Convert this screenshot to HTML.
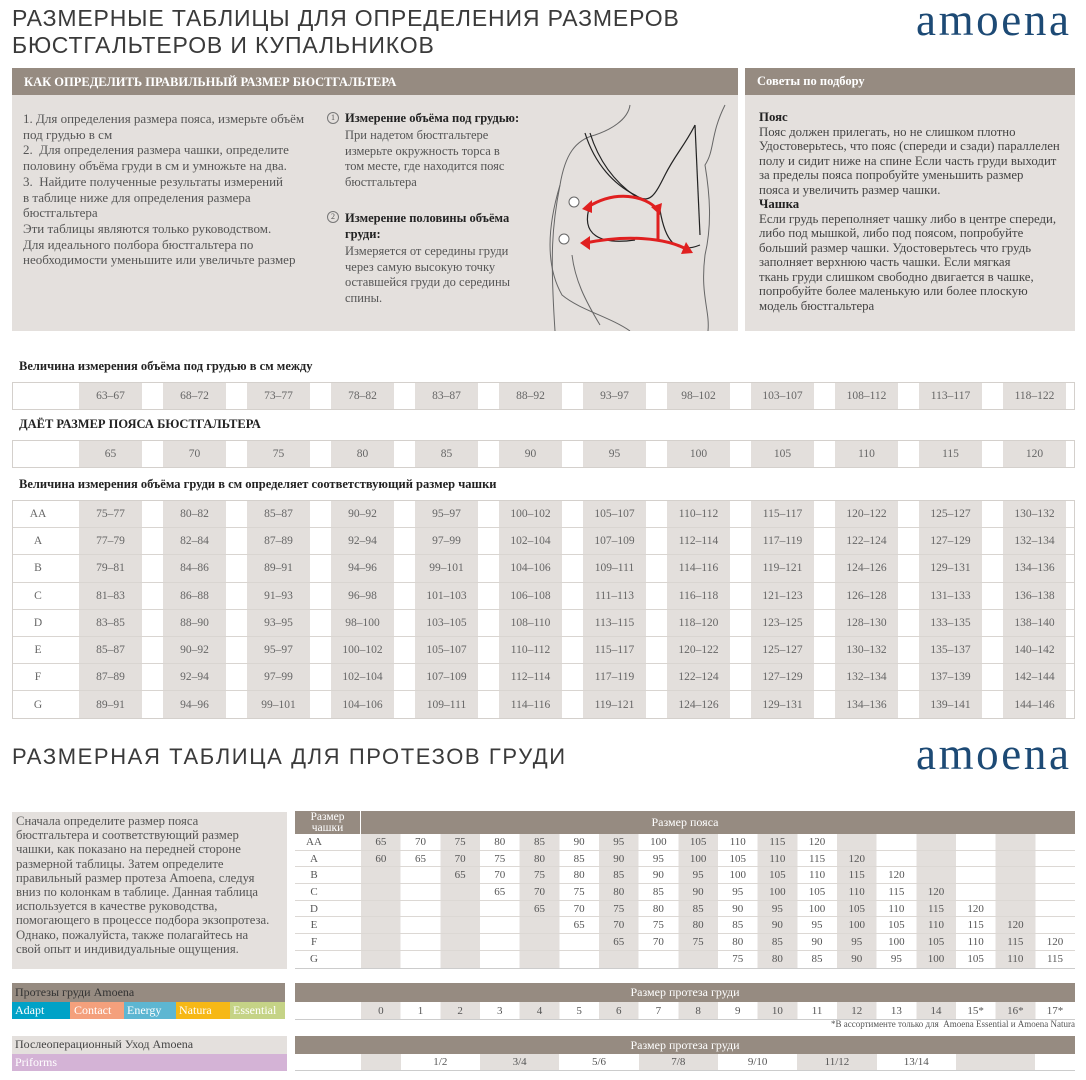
<!DOCTYPE html>
<html><head><meta charset="utf-8">
<style>
*{margin:0;padding:0;box-sizing:border-box}
body{width:1086px;height:1080px;background:#fff;position:relative;overflow:hidden;font-family:"Liberation Serif","Noto Serif CJK SC",serif;color:#555}
.a{position:absolute}
.t1{font-family:"Liberation Sans",sans-serif;font-size:23px;color:#3a3a3a;letter-spacing:0.85px;line-height:27px}
.logo{font-family:"Liberation Serif",serif;color:#1d4a75;font-size:45px;letter-spacing:2.6px}
.hd{background:#968b81;color:#fff;font-weight:bold;font-size:12.5px}
.lg{background:#e4e0dd}
.txt{font-size:12px;line-height:15.7px;color:#555}
.lbl{font-weight:bold;font-size:12.5px;color:#222}
.row{position:absolute;left:12px;width:1063px;border:1px solid #d4d0cc;display:flex;align-items:center;font-size:11.5px;color:#666;
 background-image:repeating-linear-gradient(90deg,#e3dfdc 0 63px,#fff 63px 84px);background-size:calc(100% - 67px) 100%;background-position:66px 0;background-repeat:no-repeat}
.row span{display:inline-block;flex:0 0 84px;width:84px;padding-right:21px;text-align:center}
.row span:first-child{flex:0 0 66px;width:66px;padding:0}
.cup{position:absolute;left:12px;top:500px;width:1063px;height:219px;border:1px solid #d4d0cc;
 background-image:repeating-linear-gradient(90deg,#e3dfdc 0 63px,#fff 63px 84px);background-size:calc(100% - 67px) 100%;background-position:66px 0;background-repeat:no-repeat}
.cup div{display:flex;height:27.2px;align-items:center;border-bottom:1px solid #d9d5d1;font-size:11.5px;color:#666}
.cup div:last-child{border-bottom:none}
.cup span{display:inline-block;flex:0 0 84px;width:84px;padding-right:21px;text-align:center}
.cup span:first-child{flex:0 0 66px;width:66px;padding:0 16px 0 0}
.bt{position:absolute;left:295px;width:780px;
 background-image:repeating-linear-gradient(90deg,#e3dfdc 0 39.67px,#fff 39.67px 79.33px);background-size:714px 100%;background-position:66px 0;background-repeat:no-repeat;border-bottom:1px solid #ccc}
.bt div{display:flex;height:16.7px;align-items:center;border-bottom:1px solid #dcd8d4;font-size:11px;color:#555}
.bt div:last-child{border-bottom:none}
.bt span{display:inline-block;flex:0 0 39.67px;width:39.67px;text-align:center}
.bt span:first-child{flex:0 0 66px;width:66px;padding-right:28px}
.bh{position:absolute;left:295px;width:780px;background:#968b81;color:#fff;font-size:12px;text-align:center}
</style></head><body>

<div class="a t1" style="left:12px;top:5px">РАЗМЕРНЫЕ ТАБЛИЦЫ ДЛЯ ОПРЕДЕЛЕНИЯ РАЗМЕРОВ<br>БЮСТГАЛЬТЕРОВ И КУПАЛЬНИКОВ</div>
<div class="a logo" style="left:916px;top:-6px">amoena</div>

<div class="a lg" style="left:12px;top:68px;width:726px;height:263px"></div>
<div class="a hd" style="left:12px;top:68px;width:726px;height:27px;padding:7px 0 0 12px">КАК ОПРЕДЕЛИТЬ ПРАВИЛЬНЫЙ РАЗМЕР БЮСТГАЛЬТЕРА</div>
<div class="a txt" style="left:23px;top:111px;width:310px;font-size:13px">1. Для определения размера пояса, измерьте объём<br>под грудью в см<br>2.&nbsp; Для определения размера чашки, определите<br>половину объёма груди в см и умножьте на два.<br>3.&nbsp; Найдите полученные результаты измерений<br>в таблице ниже для определения размера<br>бюстгальтера<br>Эти таблицы являются только руководством.<br>Для идеального полбора бюстгальтера по<br>необходимости уменьшите или увеличьте размер</div>

<div class="a" style="left:327px;top:112px;width:12px;height:12px;border:1px solid #777;border-radius:50%;font-size:8px;text-align:center;line-height:10px">1</div>
<div class="a lbl" style="left:345px;top:111px">Измерение объёма под грудью:</div>
<div class="a txt" style="left:345px;top:128px;font-size:12.5px">При надетом бюстгальтере<br>измерьте окружность торса в<br>том месте, где находится пояс<br>бюстгальтера</div>
<div class="a" style="left:327px;top:211px;width:12px;height:12px;border:1px solid #777;border-radius:50%;font-size:8px;text-align:center;line-height:10px">2</div>
<div class="a lbl" style="left:345px;top:210px;line-height:16px">Измерение половины объёма<br>груди:</div>
<div class="a txt" style="left:345px;top:244px;font-size:12.5px">Измеряется от середины груди<br>через самую высокую точку<br>оставшейся груди до середины<br>спины.</div>

<svg class="a" style="left:540px;top:95px" width="198" height="236" viewBox="0 0 198 236">
<g fill="none" stroke="#666" stroke-width="1">
<path d="M90 10 C88 25 70 35 55 40 C35 45 25 60 20 90 C12 130 10 160 15 236"/>
<path d="M185 10 C170 40 175 55 165 70 C170 100 172 130 165 160 C160 200 170 215 168 236"/>
<path d="M20 90 C8 130 5 170 22 200 C40 215 70 222 90 236"/>
<path d="M32 160 C35 185 45 205 60 230"/>
</g>
<g fill="none" stroke="#222" stroke-width="1.2">
<path d="M45 38 C55 70 75 90 95 100 C110 110 115 100 125 80 C135 60 145 50 155 30"/>
<path d="M50 38 C60 70 78 90 98 103"/>
<path d="M50 110 C40 140 60 150 95 145"/>
<path d="M120 115 C125 145 135 160 160 150"/>
<path d="M155 30 L160 140"/>
</g>
<g stroke="#e02020" stroke-width="3" fill="#e02020">
<path d="M48 112 C75 95 105 100 118 115" fill="none"/>
<path d="M45 148 C85 140 125 142 148 155" fill="none"/>
<line x1="118" y1="115" x2="118" y2="145"/>
<polygon points="42,114 52,105 52,118" stroke="none"/>
<polygon points="120,120 111,112 122,108" stroke="none"/>
<polygon points="40,148 50,141 50,155" stroke="none"/>
<polygon points="153,158 141,159 146,147" stroke="none"/>
</g>
<circle cx="34" cy="107" r="5" fill="#fff" stroke="#666"/>
<circle cx="24" cy="144" r="5" fill="#fff" stroke="#666"/>
</svg>

<div class="a lg" style="left:745px;top:68px;width:330px;height:263px"></div>
<div class="a hd" style="left:745px;top:68px;width:330px;height:27px;padding:6px 0 0 12px">Советы по подбору</div>
<div class="a txt" style="left:759px;top:110px;line-height:14.5px;font-size:12.8px;color:#444"><b style="color:#222">Пояс</b><br>Пояс должен прилегать, но не слишком плотно<br>Удостоверьтесь, что пояс (спереди и сзади) параллелен<br>полу и сидит ниже на спине Если часть груди выходит<br>за пределы пояса попробуйте уменьшить размер<br>пояса и увеличить размер чашки.<br><b style="color:#222">Чашка</b><br>Если грудь переполняет чашку либо в центре спереди,<br>либо под мышкой, либо под поясом, попробуйте<br>больший размер чашки. Удостоверьтесь что грудь<br>заполняет верхнюю часть чашки. Если мягкая<br>ткань груди слишком свободно двигается в чашке,<br>попробуйте более маленькую или более плоскую<br>модель бюстгальтера</div>

<div class="a lbl" style="left:19px;top:359px;font-size:12.5px">Величина измерения объёма под грудью в см между</div>
<div class="row" style="top:382px;height:28px"><span></span><span>63–67</span><span>68–72</span><span>73–77</span><span>78–82</span><span>83–87</span><span>88–92</span><span>93–97</span><span>98–102</span><span>103–107</span><span>108–112</span><span>113–117</span><span>118–122</span></div>
<div class="a lbl" style="left:19px;top:417px;font-size:12.5px">ДАЁТ РАЗМЕР ПОЯСА БЮСТГАЛЬТЕРА</div>
<div class="row" style="top:440px;height:28px"><span></span><span>65</span><span>70</span><span>75</span><span>80</span><span>85</span><span>90</span><span>95</span><span>100</span><span>105</span><span>110</span><span>115</span><span>120</span></div>
<div class="a lbl" style="left:19px;top:477px;font-size:12.5px">Величина измерения объёма груди в см определяет соответствующий размер чашки</div>

<div class="cup">
<div><span>AA</span><span>75–77</span><span>80–82</span><span>85–87</span><span>90–92</span><span>95–97</span><span>100–102</span><span>105–107</span><span>110–112</span><span>115–117</span><span>120–122</span><span>125–127</span><span>130–132</span></div>
<div><span>A</span><span>77–79</span><span>82–84</span><span>87–89</span><span>92–94</span><span>97–99</span><span>102–104</span><span>107–109</span><span>112–114</span><span>117–119</span><span>122–124</span><span>127–129</span><span>132–134</span></div>
<div><span>B</span><span>79–81</span><span>84–86</span><span>89–91</span><span>94–96</span><span>99–101</span><span>104–106</span><span>109–111</span><span>114–116</span><span>119–121</span><span>124–126</span><span>129–131</span><span>134–136</span></div>
<div><span>C</span><span>81–83</span><span>86–88</span><span>91–93</span><span>96–98</span><span>101–103</span><span>106–108</span><span>111–113</span><span>116–118</span><span>121–123</span><span>126–128</span><span>131–133</span><span>136–138</span></div>
<div><span>D</span><span>83–85</span><span>88–90</span><span>93–95</span><span>98–100</span><span>103–105</span><span>108–110</span><span>113–115</span><span>118–120</span><span>123–125</span><span>128–130</span><span>133–135</span><span>138–140</span></div>
<div><span>E</span><span>85–87</span><span>90–92</span><span>95–97</span><span>100–102</span><span>105–107</span><span>110–112</span><span>115–117</span><span>120–122</span><span>125–127</span><span>130–132</span><span>135–137</span><span>140–142</span></div>
<div><span>F</span><span>87–89</span><span>92–94</span><span>97–99</span><span>102–104</span><span>107–109</span><span>112–114</span><span>117–119</span><span>122–124</span><span>127–129</span><span>132–134</span><span>137–139</span><span>142–144</span></div>
<div><span>G</span><span>89–91</span><span>94–96</span><span>99–101</span><span>104–106</span><span>109–111</span><span>114–116</span><span>119–121</span><span>124–126</span><span>129–131</span><span>134–136</span><span>139–141</span><span>144–146</span></div>
</div>

<div class="a t1" style="left:12px;top:743px;font-size:22px;letter-spacing:1.6px">РАЗМЕРНАЯ ТАБЛИЦА ДЛЯ ПРОТЕЗОВ ГРУДИ</div>
<div class="a logo" style="left:916px;top:728px">amoena</div>

<div class="a lg" style="left:12px;top:812px;width:275px;height:157px"></div>
<div class="a txt" style="left:16px;top:814px;line-height:14.2px;font-size:12.7px">Сначала определите размер пояса<br>бюстгальтера и соответствующий размер<br>чашки, как показано на передней стороне<br>размерной таблицы. Затем определите<br>правильный размер протеза Amoena, следуя<br>вниз по колонкам в таблице. Данная таблица<br>используется в качестве руководства,<br>помогающего в процессе подбора экзопротеза.<br>Однако, пожалуйста, также полагайтесь на<br>свой опыт и индивидуальные ощущения.</div>

<div class="bh" style="top:811px;height:23px;line-height:23px">Размер пояса</div>
<div class="a" style="left:295px;top:811px;width:66px;height:23px;background:#968b81;color:#fff;font-size:11.5px;line-height:11px;text-align:center;padding-top:1px;border-right:1px solid #fff;overflow:hidden">Размер<br>чашки</div>
<div class="bt" style="top:834px">
<div><span>AA</span><span>65</span><span>70</span><span>75</span><span>80</span><span>85</span><span>90</span><span>95</span><span>100</span><span>105</span><span>110</span><span>115</span><span>120</span></div>
<div><span>A</span><span>60</span><span>65</span><span>70</span><span>75</span><span>80</span><span>85</span><span>90</span><span>95</span><span>100</span><span>105</span><span>110</span><span>115</span><span>120</span></div>
<div><span>B</span><span></span><span></span><span>65</span><span>70</span><span>75</span><span>80</span><span>85</span><span>90</span><span>95</span><span>100</span><span>105</span><span>110</span><span>115</span><span>120</span></div>
<div><span>C</span><span></span><span></span><span></span><span>65</span><span>70</span><span>75</span><span>80</span><span>85</span><span>90</span><span>95</span><span>100</span><span>105</span><span>110</span><span>115</span><span>120</span></div>
<div><span>D</span><span></span><span></span><span></span><span></span><span>65</span><span>70</span><span>75</span><span>80</span><span>85</span><span>90</span><span>95</span><span>100</span><span>105</span><span>110</span><span>115</span><span>120</span></div>
<div><span>E</span><span></span><span></span><span></span><span></span><span></span><span>65</span><span>70</span><span>75</span><span>80</span><span>85</span><span>90</span><span>95</span><span>100</span><span>105</span><span>110</span><span>115</span><span>120</span></div>
<div><span>F</span><span></span><span></span><span></span><span></span><span></span><span></span><span>65</span><span>70</span><span>75</span><span>80</span><span>85</span><span>90</span><span>95</span><span>100</span><span>105</span><span>110</span><span>115</span><span>120</span></div>
<div><span>G</span><span></span><span></span><span></span><span></span><span></span><span></span><span></span><span></span><span></span><span>75</span><span>80</span><span>85</span><span>90</span><span>95</span><span>100</span><span>105</span><span>110</span><span>115</span></div>
</div>

<div class="a" style="left:12px;top:983px;width:273px;height:19px;background:#968b81;color:#333;font-size:12px;padding:2px 0 0 3px">Протезы груди Amoena</div>
<div class="a" style="left:12px;top:1002px;height:17px;display:flex;font-size:12px;color:#fff;line-height:17px">
<div style="width:58px;background:#00a2c7;padding-left:3px">Adapt</div>
<div style="width:54px;background:#f4a07c;padding-left:4px">Contact</div>
<div style="width:52px;background:#5db6d2;padding-left:3px">Energy</div>
<div style="width:54px;background:#f6b816;padding-left:3px">Natura</div>
<div style="width:55px;background:#c5d386;padding-left:3px">Essential</div>
</div>
<div class="bh" style="top:983px;height:19px;line-height:19px">Размер протеза груди</div>
<div class="bt" style="top:1002px"><div style="height:17px"><span></span><span>0</span><span>1</span><span>2</span><span>3</span><span>4</span><span>5</span><span>6</span><span>7</span><span>8</span><span>9</span><span>10</span><span>11</span><span>12</span><span>13</span><span>14</span><span>15*</span><span>16*</span><span>17*</span></div></div>
<div class="a" style="left:760px;top:1019px;width:315px;text-align:right;font-size:9px;color:#555">*В ассортименте только для&nbsp; Amoena Essential и Amoena Natura</div>

<div class="a lg" style="left:12px;top:1036px;width:275px;height:18px;color:#444;font-size:12px;padding:1px 0 0 3px">Послеоперационный Уход Amoena</div>
<div class="a" style="left:12px;top:1054px;width:275px;height:17px;background:#d4b3d6;color:#fff;font-size:12px;padding:1px 0 0 3px">Priforms</div>
<div class="bh" style="top:1036px;height:18px;line-height:18px">Размер протеза груди</div>
<div class="a" style="left:295px;top:1054px;width:780px;height:17px;display:flex;font-size:11px;color:#555;line-height:17px;text-align:center;border-bottom:1px solid #ccc">
<div style="flex:0 0 66px;background:#fff"></div>
<div style="flex:0 0 39.67px;background:#e3dfdc"></div>
<div style="flex:0 0 79.33px;background:#fff">1/2</div>
<div style="flex:0 0 79.33px;background:#e3dfdc">3/4</div>
<div style="flex:0 0 79.33px;background:#fff">5/6</div>
<div style="flex:0 0 79.33px;background:#e3dfdc">7/8</div>
<div style="flex:0 0 79.33px;background:#fff">9/10</div>
<div style="flex:0 0 79.33px;background:#e3dfdc">11/12</div>
<div style="flex:0 0 79.33px;background:#fff">13/14</div>
<div style="flex:0 0 79.33px;background:#e3dfdc"></div>
<div style="flex:0 0 39.67px;background:#fff"></div>
</div>
</body></html>
